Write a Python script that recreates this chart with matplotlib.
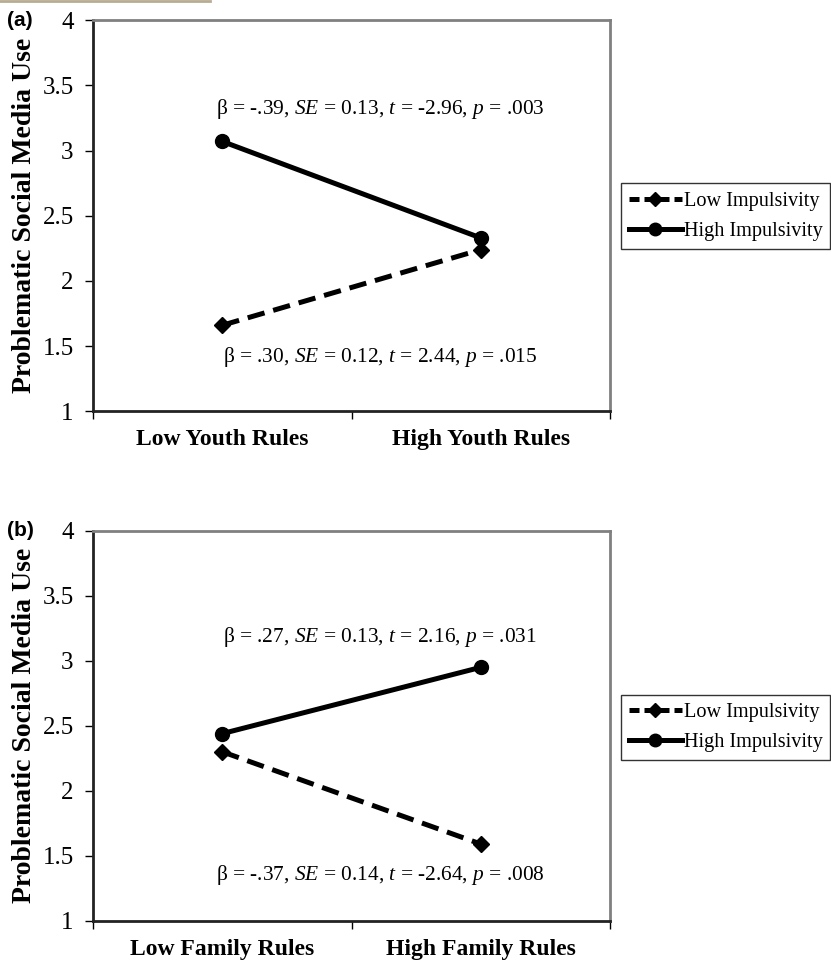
import matplotlib
matplotlib.use("Agg")
import matplotlib.pyplot as plt
from matplotlib.lines import Line2D

plt.rcParams['font.family'] = ['Liberation Serif', 'DejaVu Serif']
plt.rcParams['mathtext.fontset'] = 'custom'
plt.rcParams['mathtext.rm'] = 'Liberation Serif'
plt.rcParams['mathtext.it'] = 'Liberation Serif:italic'

# dados
paineis = ["(a)", "(b)"]
categorias_a = ["Low Youth Rules", "High Youth Rules"]
categorias_b = ["Low Family Rules", "High Family Rules"]
low_imp_a = [1.66, 2.24]
high_imp_a = [3.07, 2.33]
low_imp_b = [2.30, 1.59]
high_imp_b = [2.44, 2.95]
texto_cima_a = r"β = -.39, $\mathit{SE}$ = 0.13, $\mathit{t}$ = -2.96, $\mathit{p}$ = .003"
texto_baixo_a = r"β = .30, $\mathit{SE}$ = 0.12, $\mathit{t}$ = 2.44, $\mathit{p}$ = .015"
texto_cima_b = r"β = .27, $\mathit{SE}$ = 0.13, $\mathit{t}$ = 2.16, $\mathit{p}$ = .031"
texto_baixo_b = r"β = -.37, $\mathit{SE}$ = 0.14, $\mathit{t}$ = -2.64, $\mathit{p}$ = .008"
y_textos_a = [3.32, 1.42]
y_textos_b = [3.18, 1.35]
y_ticks = [1, 1.5, 2, 2.5, 3, 3.5, 4]
y_ticklabels = ["1", "1.5", "2", "2.5", "3", "3.5", "4"]

fig = plt.figure(figsize=(8.31, 9.61), dpi=100)
# linha marrom no topo
fig.add_artist(Line2D([0, 0.253], [0.999, 0.999], color="#b8ab92", lw=2))


def painel(pos, nome, cats, low, high, txt_cima, txt_baixo, y_txt, leg_y):
    ax = fig.add_axes(pos)
    xs = [0.5, 1.5]
    ax.plot(xs, low, color="black", lw=3.6, linestyle=(0, (3.5, 1.8)),
            marker="D", markersize=8, label="Low Impulsivity")
    ax.plot(xs, high, color="black", lw=3.6, marker="o", markersize=10,
            label="High Impulsivity")
    ax.set_xlim(0, 2)
    ax.set_ylim(1, 4)
    ax.set_yticks(y_ticks)
    ax.set_yticklabels(y_ticklabels, fontsize=18)
    ax.set_xticks([0, 1, 2])
    ax.set_xticklabels([])
    ax.set_xticks(xs, minor=True)
    ax.set_xticklabels(cats, minor=True, fontsize=17, fontweight="bold")
    ax.tick_params(axis="x", which="minor", length=0, pad=13)
    ax.tick_params(axis="both", which="major", length=6, width=1, direction="out")
    ax.tick_params(axis="y", pad=8)
    for s in ["top", "right"]:
        ax.spines[s].set_color("#808080")
        ax.spines[s].set_linewidth(2)
    for s in ["left", "bottom"]:
        ax.spines[s].set_color("#222222")
        ax.spines[s].set_linewidth(2)
    ax.set_ylabel("Problematic Social Media Use", fontsize=20, fontweight="bold", labelpad=4)
    ax.text(1.11, y_txt[0], txt_cima, ha="center", va="center", fontsize=15.4)
    ax.text(1.11, y_txt[1], txt_baixo, ha="center", va="center", fontsize=15.4)
    fig.text(0.008, pos[1] + pos[3], nome, ha="left", va="center",
             fontsize=15, fontweight="bold", family="Liberation Sans")
    # simbolos da legenda com tracos mais curtos, como no Excel
    h_low = Line2D([], [], color="black", lw=3.6, linestyle=(0, (2.0, 1.0)),
                   marker="D", markersize=7)
    h_high = Line2D([], [], color="black", lw=3.6, marker="o", markersize=9)
    leg = fig.legend([h_low, h_high], ["Low Impulsivity", "High Impulsivity"],
                     loc="center left",
                     bbox_to_anchor=(0.747, leg_y), frameon=True, fancybox=False,
                     edgecolor="black", fontsize=14.6, handlelength=2.6,
                     handletextpad=0.1, borderpad=0.4, labelspacing=0.55,
                     borderaxespad=0)
    leg.get_frame().set_linewidth(1)
    return ax


painel([0.112, 0.572, 0.622, 0.407], paineis[0], categorias_a, low_imp_a, high_imp_a,
       texto_cima_a, texto_baixo_a, y_textos_a, 0.775)
painel([0.112, 0.042, 0.622, 0.4055], paineis[1], categorias_b, low_imp_b, high_imp_b,
       texto_cima_b, texto_baixo_b, y_textos_b, 0.243)

plt.savefig("out.png", dpi=100)
